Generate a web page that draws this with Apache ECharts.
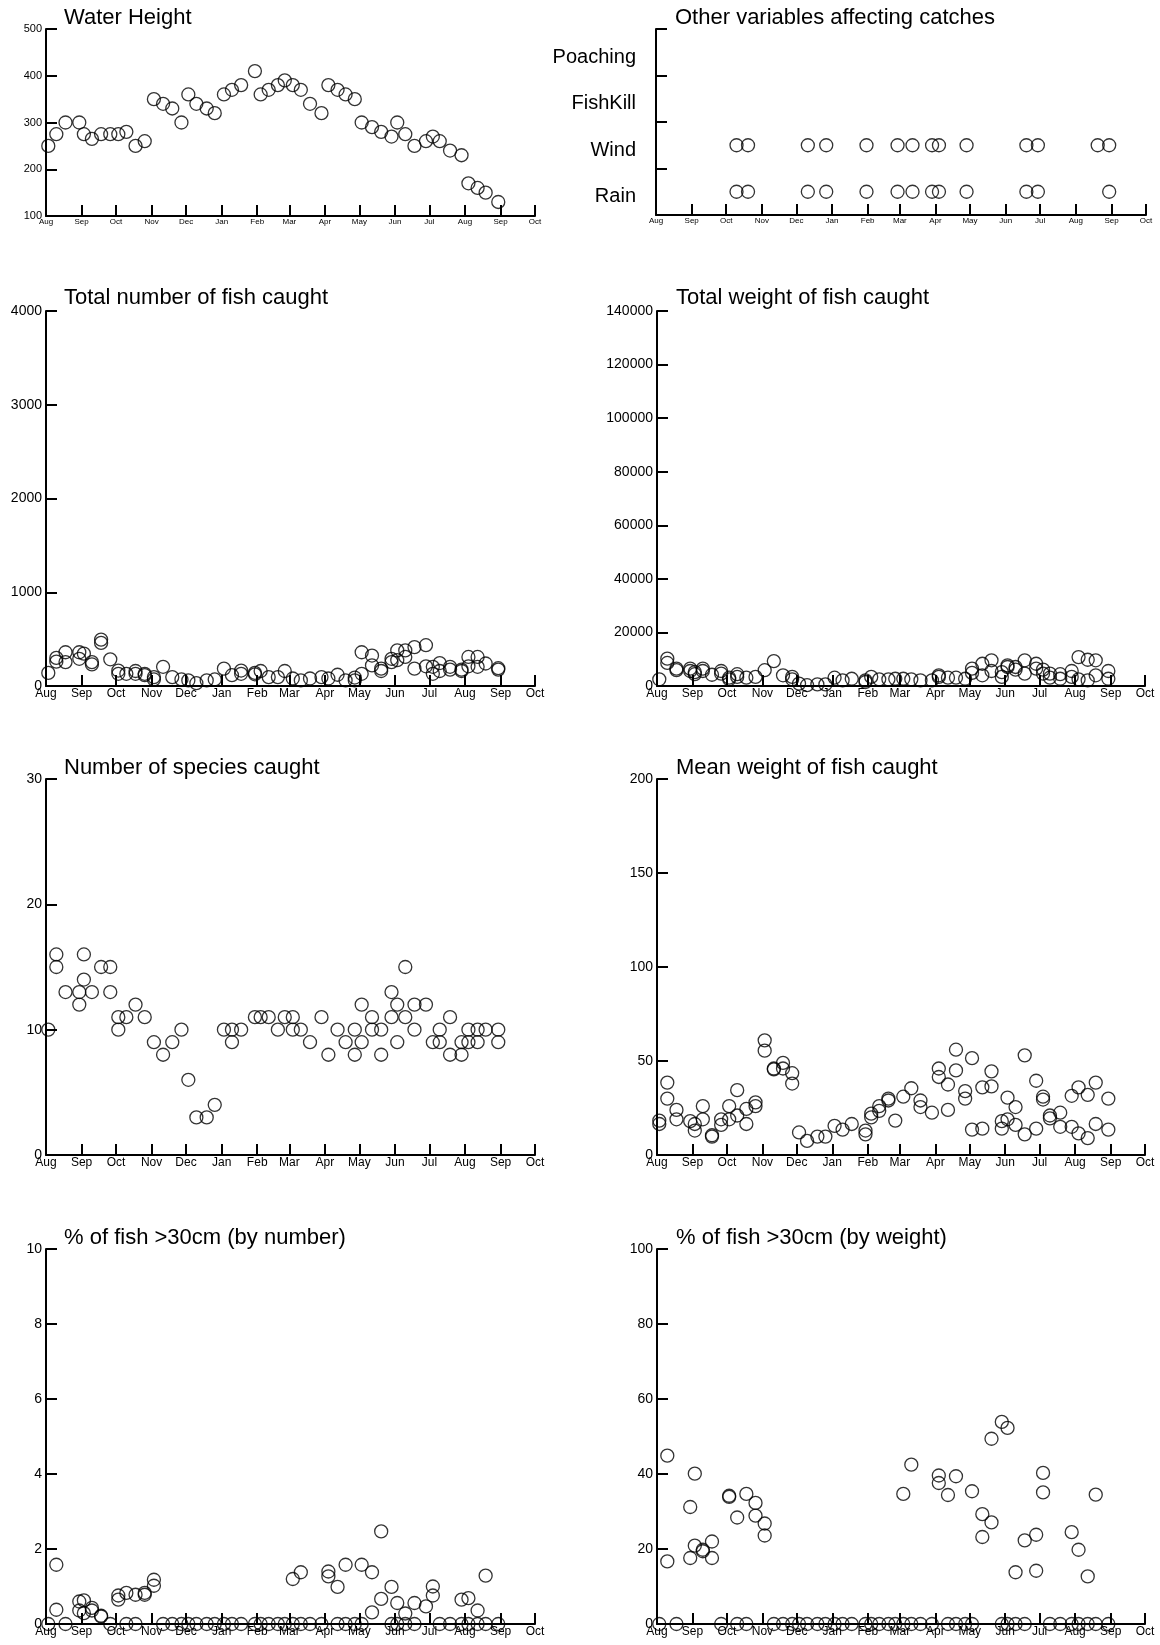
<!DOCTYPE html>
<html>
<head>
<meta charset="utf-8">
<script src="https://cdn.jsdelivr.net/npm/echarts@6/dist/echarts.min.js"></script>
<style>
  html, body { margin: 0; background: #fff; }
  #main { width: 1160px; height: 1645px; }
</style>
</head>
<body>
<div id="main"></div>
<script>
// month boundaries, as days counted from 1 Aug
var monthNames  = ['Aug','Sep','Oct','Nov','Dec','Jan','Feb','Mar','Apr','May','Jun','Jul','Aug','Sep','Oct'];
var monthStarts = [0, 31, 61, 92, 122, 153, 184, 212, 243, 273, 304, 334, 365, 396, 426];

// water height
var heightDays   = [2,9,17,29,33,40,48,56,63,70,78,86,94,102,110,118,124,131,140,147,155,162,170,182,187,194,202,208,215,222,230,240,246,254,261,269,275,284,292,301,306,313,321,331,337,343,352,362,368,376,383,394];
var heightValues = [250,275,300,300,275,265,275,275,275,280,250,260,350,340,330,300,360,340,330,320,360,370,380,410,360,370,380,390,380,370,340,320,380,370,360,350,300,290,280,270,300,275,250,260,270,260,240,230,170,160,150,130];

// other variables
var eventTypes = ['Rain','Wind','FishKill','Poaching'];
var windDays   = [70,80,132,148,183,210,223,240,246,270,322,332,384,394];
var rainDays   = [70,80,132,148,183,210,223,240,246,270,322,332,394];

// total number of fish
var numberDays   = [2,9,9,17,17,29,29,33,40,40,48,48,56,63,63,70,78,78,86,86,94,94,102,110,118,124,131,140,147,155,162,170,170,182,182,187,194,202,208,215,222,230,240,246,254,261,269,269,275,275,284,284,292,292,301,301,306,306,313,313,321,321,331,331,337,337,343,343,352,352,362,362,368,368,376,376,383,394,394];
var numberValues = [140,300,260,360,255,360,290,345,255,230,495,460,285,165,130,130,160,130,130,115,95,70,205,95,70,60,30,60,70,185,115,165,130,140,125,160,95,95,160,80,60,80,95,80,120,60,90,60,360,130,325,220,185,160,290,255,380,275,380,310,415,185,435,210,205,130,245,160,205,175,175,160,310,210,310,205,240,190,175];

// total weight of fish
var weightDays   = [2,9,9,17,17,29,29,33,33,40,40,48,56,56,63,63,70,70,78,86,94,102,110,118,118,124,131,140,147,155,162,170,182,182,187,194,202,208,215,222,230,240,246,246,254,261,269,275,275,284,284,292,292,301,301,306,306,313,313,321,321,331,331,337,337,343,343,352,352,362,362,368,368,376,376,383,383,394,394];
var weightValues = [2500,10200,8600,6500,5900,6500,5600,5200,4400,6500,5600,4200,5600,4600,3100,2500,4400,3400,3100,3400,5900,9300,4000,3400,2500,900,300,600,600,3100,2100,2700,1500,2100,3400,2500,2500,2700,2700,2500,2100,2100,3400,4000,3100,3100,2700,6500,4900,8300,4000,9600,5600,5200,3400,7700,7100,7100,6100,9600,4600,8300,6500,6100,4600,4600,3100,4400,2700,5600,3400,10800,2500,9800,2100,9600,4000,5600,2700];

// number of species
var speciesDays   = [2,9,9,17,29,29,33,33,40,48,56,56,63,63,70,78,86,94,102,110,118,124,131,140,147,155,162,162,170,182,187,194,202,208,215,215,222,230,240,246,254,261,269,269,275,275,284,284,292,292,301,301,306,306,313,313,321,321,331,337,343,343,352,352,362,362,368,368,376,376,383,394,394];
var speciesValues = [10,16,15,13,13,12,14,16,13,15,15,13,11,10,11,12,11,9,8,9,10,6,3,3,4,10,10,9,10,11,11,11,10,11,11,10,10,9,11,8,10,9,10,8,12,9,11,10,10,8,13,11,12,9,15,11,12,10,12,9,10,9,11,8,8,9,10,9,10,9,10,10,9];

// mean weight
var meanDays   = [2,2,9,9,17,17,29,33,33,40,40,48,48,56,56,63,63,70,70,78,78,86,86,94,94,102,102,110,110,118,118,124,131,140,147,155,162,170,182,182,187,187,194,194,202,202,208,215,222,230,230,240,246,246,254,254,261,261,269,269,275,275,284,284,292,292,301,301,306,306,313,313,321,321,331,331,337,337,343,343,352,352,362,362,368,368,376,376,383,383,394,394];
var meanValues = [18.3,16.5,38.5,30,24,19,18,16.5,13,26,19,9.8,10.5,19,16,26,19,34.5,21,16.5,24.5,28,26,61,55.5,46,45.5,49,46,43.5,38,12,7.5,9.8,9.8,15.5,13.5,16.5,13,11,22,20,26,23.5,30,29,18.3,31,35.5,29,25.5,22.5,46,41.5,37.5,24,56,45,34,30,13.5,51.5,36,14,44.5,36.5,14,18,19,30.5,25.5,16,11,53,14,39.5,31,29.5,21,19.5,15,22.5,31.5,15,36,11.5,9,32,38.5,16.5,30,13.5];

// % of fish >30cm by number
var pctNumDays   = [2,9,9,17,29,29,33,33,40,40,48,48,56,63,63,70,70,78,78,86,86,94,94,102,110,118,124,131,140,147,155,162,170,182,187,194,202,208,215,215,222,222,230,240,246,246,254,254,261,261,269,275,275,284,284,292,292,301,301,306,306,313,313,321,321,331,337,337,343,352,362,362,368,368,376,376,383,383,394];
var pctNumValues = [0,1.58,0.38,0,0.6,0.36,0.63,0.29,0.43,0.36,0.22,0.2,0,0.76,0.65,0.83,0,0.78,0,0.83,0.78,1.18,1.02,0,0,0,0,0,0,0,0,0,0,0,0,0,0,0,1.2,0,1.38,0,0,0,1.4,1.27,0.99,0,1.58,0,0,1.58,0,1.38,0.31,2.47,0.67,0.99,0,0.56,0,0.28,0,0.56,0,0.47,1.0,0.76,0,0,0.65,0,0.69,0,0.36,0,1.29,0,0];

// % of fish >30cm by weight
var pctWtDays   = [2,9,9,17,29,29,33,33,40,40,48,48,56,63,63,70,70,78,78,86,86,94,94,102,110,118,124,131,140,147,155,162,170,182,187,194,202,208,215,215,222,222,230,240,246,246,254,254,261,261,269,275,275,284,284,292,292,301,301,306,306,313,313,321,321,331,331,337,337,343,352,362,362,368,368,376,376,383,383,394];
var pctWtValues = [0,44.9,16.7,0,31.2,17.6,40.1,20.9,19.8,19.4,22,17.6,0,34.2,33.9,28.4,0,34.7,0,32.3,28.9,26.8,23.6,0,0,0,0,0,0,0,0,0,0,0,0,0,0,0,34.7,0,42.5,0,0,0,39.6,37.6,34.4,0,39.4,0,0,35.4,0,29.3,23.2,49.4,27.1,53.9,0,52.3,0,13.8,0,22.3,0,23.8,14.2,40.3,35.1,0,0,24.5,0,19.8,0,12.7,0,34.5,0,0];

var FONT = 'Liberation Sans';

function zip(xs, ys) {
  return xs.map(function (x, i) { return [x, ys[i]]; });
}

// layout of the 8 panels
var panels = [
  { title: 'Water Height', tTop: 7, tLeft: 64, grid: { left: 46, top: 29, width: 489, height: 187 },
    y: { min: 100, max: 500, interval: 100 }, xFont: 8, yFont: 11, data: zip(heightDays, heightValues) },
  { title: 'Other variables affecting catches', tTop: 7, tLeft: 675, grid: { left: 656, top: 29, width: 490, height: 186 },
    y: null, xFont: 8, yFont: 20, data: null },
  { title: 'Total number of fish caught', tTop: 287, tLeft: 64, grid: { left: 46, top: 311, width: 489, height: 375 },
    y: { min: 0, max: 4000, interval: 1000 }, xFont: 12, yFont: 14, data: zip(numberDays, numberValues) },
  { title: 'Total weight of fish caught', tTop: 287, tLeft: 676, grid: { left: 657, top: 311, width: 488, height: 375 },
    y: { min: 0, max: 140000, interval: 20000 }, xFont: 12, yFont: 14, data: zip(weightDays, weightValues) },
  { title: 'Number of species caught', tTop: 757, tLeft: 64, grid: { left: 46, top: 779, width: 489, height: 376 },
    y: { min: 0, max: 30, interval: 10 }, xFont: 12, yFont: 14, data: zip(speciesDays, speciesValues) },
  { title: 'Mean weight of fish caught', tTop: 757, tLeft: 676, grid: { left: 657, top: 779, width: 488, height: 376 },
    y: { min: 0, max: 200, interval: 50 }, xFont: 12, yFont: 14, data: zip(meanDays, meanValues) },
  { title: '% of fish >30cm (by number)', tTop: 1227, tLeft: 64, grid: { left: 46, top: 1249, width: 489, height: 375 },
    y: { min: 0, max: 10, interval: 2 }, xFont: 12, yFont: 14, data: zip(pctNumDays, pctNumValues) },
  { title: '% of fish >30cm (by weight)', tTop: 1227, tLeft: 676, grid: { left: 657, top: 1249, width: 488, height: 375 },
    y: { min: 0, max: 100, interval: 20 }, xFont: 12, yFont: 14, data: zip(pctWtDays, pctWtValues) }
];

var axisLine = { show: true, onZero: false, lineStyle: { color: '#000', width: 2 } };
var tick = { show: true, inside: true, length: 11, lineStyle: { color: '#000', width: 2 } };
var marker = {
  type: 'scatter', symbol: 'circle', symbolSize: 13, clip: false,
  itemStyle: { color: 'rgba(0,0,0,0)', borderColor: '#000', borderWidth: 1.3 },
  emphasis: { disabled: true }, silent: true
};

var option = { animation: false, backgroundColor: '#fff', title: [], grid: [], xAxis: [], yAxis: [], series: [] };

panels.forEach(function (p, i) {
  option.title.push({
    text: p.title, left: p.tLeft, top: p.tTop, padding: 0,
    textStyle: { fontFamily: FONT, fontSize: 22, fontWeight: 'normal', color: '#000' }
  });
  option.grid.push(p.grid);
  option.xAxis.push({
    type: 'value', gridIndex: i, min: 0, max: 426,
    axisLine: axisLine, axisTick: Object.assign({ customValues: monthStarts }, tick),
    splitLine: { show: false },
    axisLabel: {
      customValues: monthStarts, fontFamily: FONT, fontSize: p.xFont, color: '#000', margin: 2,
      formatter: function (v) { return monthNames[monthStarts.indexOf(v)]; }
    }
  });
  if (p.y) {
    option.yAxis.push({
      type: 'value', gridIndex: i, min: p.y.min, max: p.y.max, interval: p.y.interval,
      axisLine: axisLine, axisTick: tick, splitLine: { show: false },
      axisLabel: { fontFamily: FONT, fontSize: p.yFont, color: '#000', margin: 4,
        formatter: function (v) { return String(v); } }
    });
    option.series.push(Object.assign({ xAxisIndex: i, yAxisIndex: i, data: p.data }, marker));
  } else {
    // category labels sit a little below the middle of each band
    option.yAxis.push({
      type: 'category', gridIndex: i, data: eventTypes,
      axisLine: axisLine, axisTick: tick, splitLine: { show: false },
      axisLabel: { fontFamily: FONT, fontSize: p.yFont, color: '#000', margin: 20,
        verticalAlign: 'top', lineHeight: 10 }
    });
    option.series.push(Object.assign({ xAxisIndex: i, yAxisIndex: i,
      data: windDays.map(function (d) { return [d, 'Wind']; }) }, marker));
    option.series.push(Object.assign({ xAxisIndex: i, yAxisIndex: i,
      data: rainDays.map(function (d) { return [d, 'Rain']; }) }, marker));
  }
});

var chart = echarts.init(document.getElementById('main'));
chart.setOption(option);

window.onresize = function () {
  chart.resize();
};
</script>
</body>
</html>
